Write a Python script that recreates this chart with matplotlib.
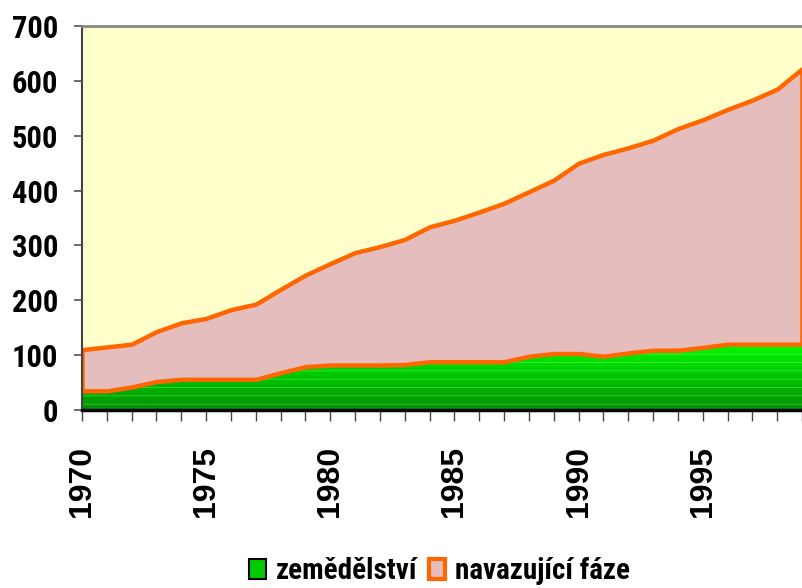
import numpy as np
import matplotlib
matplotlib.use('Agg')
import matplotlib.pyplot as plt
from matplotlib.patches import Patch
from matplotlib.colors import LinearSegmentedColormap

# data (values in the unit of the y axis)
years = list(range(1970, 2000))
zemedelstvi = [35, 35, 42, 52, 56, 56, 56, 56, 68, 79,
               82, 82, 82, 83, 88, 88, 88, 88, 98, 103,
               103, 98, 104, 109, 109, 114, 120, 120, 120, 120]
celkem = [110, 115, 120, 143, 159, 167, 183, 193, 220, 246,
          267, 287, 298, 311, 334, 346, 361, 377, 398, 419,
          450, 466, 478, 492, 513, 529, 548, 565, 585, 622]
navazujici = [c - z for c, z in zip(celkem, zemedelstvi)]

labels = ['zemědělství', 'navazující fáze']
year_labels = ['1970', '1975', '1980', '1985', '1990', '1995']

narrow = ['Roboto Condensed', 'DejaVu Sans']
wide = ['Liberation Sans', 'DejaVu Sans']

x = np.array(years)
z = np.array(zemedelstvi)
top = z + np.array(navazujici)

fig = plt.figure(figsize=(8.02, 5.88), dpi=100)
ax = fig.add_axes([0.1022, 0.3027, 0.8978, 0.6531])
ax.set_facecolor('#FFFFCC')

# green area with vertical gradient and light stripes
green_poly = ax.fill_between(x, 0, z, facecolor='none', linewidth=0)
cmap = LinearSegmentedColormap.from_list('g', ['#009000', '#00FF00'])
grad = np.linspace(1, 0, 200).reshape(-1, 1)
im = ax.imshow(grad, cmap=cmap, extent=[1970, 1999, 0, 125], aspect='auto',
               vmin=0, vmax=1, zorder=1)
im.set_clip_path(green_poly.get_paths()[0], transform=ax.transData)
plt.rcParams['hatch.linewidth'] = 0.6
ax.fill_between(x, 0, z, facecolor='none', edgecolor=(0.75, 1.0, 0.75, 0.35),
                hatch='--', linewidth=0, zorder=2)

# processing stage area
ax.fill_between(x, z, top, facecolor='#E6BDBD', edgecolor='#FF6600',
                linewidth=3.2, zorder=3)

ax.set_xlim(1970, 1998.8)
ax.set_ylim(0, 700)

ax.set_yticks(range(0, 701, 100))
ax.set_yticklabels([str(v) for v in range(0, 701, 100)],
                   family=narrow, fontweight='bold', fontsize=22)
ax.tick_params(axis='y', direction='out', length=6, width=1.2, color='#555555',
               pad=11)

ax.set_xticks(years)
ax.set_xticklabels([str(y) if str(y) in year_labels else '' for y in years],
                   rotation=90, family=wide, fontweight='bold', fontsize=23)
ax.tick_params(axis='x', direction='out', length=8, width=1, color='#444444',
               pad=18)

ax.spines['right'].set_visible(False)
ax.spines['top'].set_color('#888888')
ax.spines['top'].set_linewidth(2)
ax.spines['left'].set_color('#444444')
ax.spines['left'].set_linewidth(1.5)
ax.spines['bottom'].set_color('black')
ax.spines['bottom'].set_linewidth(2.5)
for s in ax.spines.values():
    s.set_zorder(5)

handles = [Patch(facecolor='#00CC00', edgecolor='black', linewidth=1.5),
           Patch(facecolor='#E6BDBD', edgecolor='#FF6600', linewidth=3)]
fig.legend(handles, labels, loc='center', bbox_to_anchor=(0.548, 0.029),
           frameon=False, ncol=2, handlelength=0.57, handleheight=0.7,
           handletextpad=0.33, columnspacing=0.4,
           prop={'family': narrow, 'weight': 'bold', 'size': 21})

fig.savefig('out.png', dpi=100)
